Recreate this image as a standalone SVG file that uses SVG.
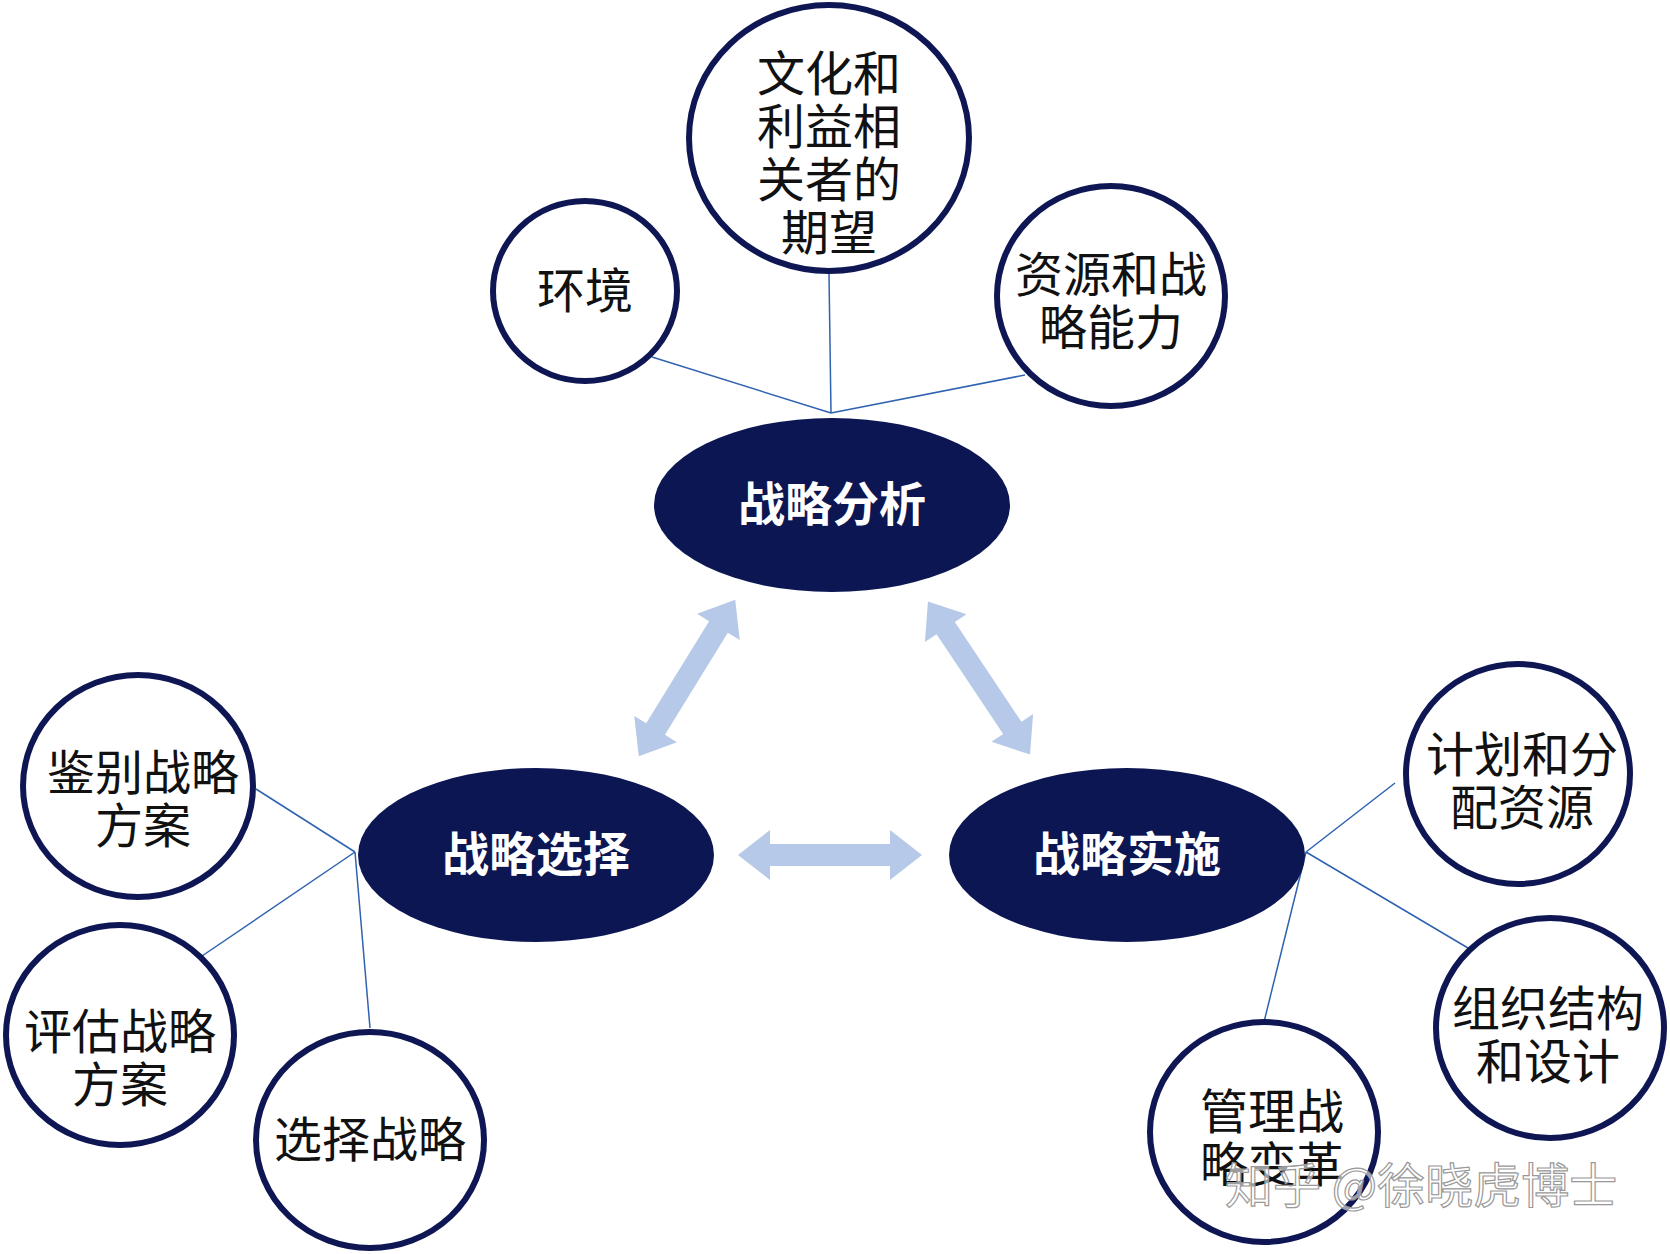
<svg xmlns="http://www.w3.org/2000/svg" width="1670" height="1254" viewBox="0 0 1670 1254">
<style>
.c{fill:#fff;stroke:#0f1654;stroke-width:6}
.e{fill:#0c1652}
.t{font-family:"Noto Sans CJK SC",sans-serif;font-size:48px;fill:#111;text-anchor:middle}
.w{font-family:"Noto Sans CJK SC",sans-serif;font-size:47px;font-weight:bold;fill:#fff;text-anchor:middle}
.l{stroke:#2f62b0;stroke-width:1.5;fill:none}
.a{fill:#b7c9e8}
</style>
<defs><path id="da" d="M-92,0 L-60,-25 L-60,-11 L60,-11 L60,-25 L92,0 L60,25 L60,11 L-60,11 L-60,25 Z"/></defs>
<rect width="1670" height="1254" fill="#fff"/>
<g id="connectors">
<path class="l" d="M831,413 L652,357 M831,413 L829,274 M831,413 L1025,375"/>
<path class="l" d="M355,852 L256,789 M355,852 L202,956 M355,852 L370,1028"/>
<path class="l" d="M1306,852 L1395,783 M1306,852 L1468,948 M1306,852 L1264,1022"/>
<use href="#da" class="a" transform="translate(687,678) rotate(-58.4)"/>
<use href="#da" class="a" transform="translate(979,678) rotate(56.3)"/>
<use href="#da" class="a" transform="translate(830,855)"/>
</g>
<g id="n-culture"><ellipse class="c" cx="829" cy="138" rx="140" ry="133"/>
<text class="t" x="829" y="91">文化和</text><text class="t" x="829" y="144">利益相</text><text class="t" x="829" y="197">关者的</text><text class="t" x="829" y="250">期望</text></g>
<g id="n-env"><ellipse class="c" cx="585" cy="291" rx="92" ry="90"/><text class="t" x="585" y="308">环境</text></g>
<g id="n-res"><ellipse class="c" cx="1111" cy="296" rx="114" ry="110"/><text class="t" x="1111" y="292">资源和战</text><text class="t" x="1111" y="345">略能力</text></g>
<g id="n-analysis"><ellipse class="e" cx="832" cy="505" rx="178" ry="87"/><text class="w" x="832" y="521">战略分析</text></g>
<g id="n-choice"><ellipse class="e" cx="536" cy="855" rx="178" ry="87"/><text class="w" x="536" y="871">战略选择</text></g>
<g id="n-impl"><ellipse class="e" cx="1127" cy="855" rx="178" ry="87"/><text class="w" x="1127" y="871">战略实施</text></g>
<g id="n-identify"><ellipse class="c" cx="138" cy="786" rx="115" ry="111"/><text class="t" x="143" y="790">鉴别战略</text><text class="t" x="143" y="843">方案</text></g>
<g id="n-eval"><ellipse class="c" cx="120" cy="1035" rx="114" ry="110"/><text class="t" x="120" y="1049">评估战略</text><text class="t" x="120" y="1102">方案</text></g>
<g id="n-select"><ellipse class="c" cx="370" cy="1140" rx="114" ry="108"/><text class="t" x="370" y="1157">选择战略</text></g>
<g id="n-plan"><ellipse class="c" cx="1518" cy="774" rx="112" ry="110"/><text class="t" x="1522" y="772">计划和分</text><text class="t" x="1522" y="825">配资源</text></g>
<g id="n-org"><ellipse class="c" cx="1550" cy="1028" rx="114" ry="110"/><text class="t" x="1548" y="1026">组织结构</text><text class="t" x="1548" y="1079">和设计</text></g>
<g id="n-change"><ellipse class="c" cx="1264" cy="1132" rx="114" ry="110"/><text class="t" x="1272" y="1129">管理战</text><text class="t" x="1272" y="1182">略变革</text></g>
<text x="1225" y="1203" font-family="Noto Sans CJK SC,sans-serif" font-size="48" fill="#fff" fill-opacity="0.6" stroke="#999" stroke-width="1.2">知乎 @徐晓虎博士</text>
</svg>
